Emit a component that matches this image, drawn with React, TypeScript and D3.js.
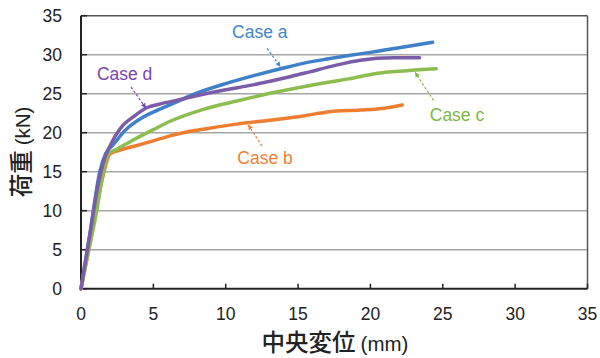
import React from "react";
import * as d3 from "d3";

const xTicks = [0, 5, 10, 15, 20, 25, 30, 35];
const yTicks = [0, 5, 10, 15, 20, 25, 30, 35];

const seriesNames = ["Case a", "Case b", "Case c", "Case d"];
const colors = ["#3f80c6", "#ee7d31", "#8cbd4f", "#7a5ca8"];
const labelColors = ["#3f86d0", "#f07f35", "#7fb64a", "#7a45ad"];

const xA = [0, 0.65, 1.3, 1.7, 2.2, 3.0, 4.3, 5.3, 6.3, 7.9, 10.0, 12.0, 14.0, 15.5, 17.0, 18.5, 20.0, 22.0, 24.3];
const yA = [0, 7.5, 15.0, 17.3, 18.4, 20.2, 22.0, 22.9, 23.7, 25.0, 26.3, 27.35, 28.3, 28.95, 29.45, 29.9, 30.3, 30.9, 31.6];

const xB = [0, 0.75, 1.5, 2.0, 2.6, 3.73, 5.0, 6.15, 7.3, 8.46, 10.77, 13.07, 15.37, 17.2, 19.3, 20.8, 22.2];
const yB = [0, 7.15, 14.3, 17.27, 17.7, 18.3, 18.95, 19.6, 20.1, 20.45, 21.1, 21.6, 22.15, 22.7, 22.9, 23.1, 23.55];

const xC = [0, 0.95, 1.9, 2.5, 3.73, 5.0, 6.2, 8.46, 10.77, 13.07, 15.37, 17.2, 18.5, 20.4, 22.5, 24.55];
const yC = [0, 8.65, 17.3, 17.9, 19.2, 20.4, 21.5, 23.0, 24.07, 25.05, 25.9, 26.5, 26.9, 27.6, 27.95, 28.2];

const xD = [0, 0.6, 1.2, 1.38, 1.65, 2.0, 2.7, 3.73, 4.54, 5.5, 6.5, 7.9, 10.0, 11.5, 13.07, 14.5, 15.8, 17.5, 19.3, 21.6, 23.4];
const yD = [0, 6.75, 13.5, 15.0, 16.8, 18.3, 20.5, 22.2, 23.2, 23.7, 24.1, 24.7, 25.5, 26.0, 26.6, 27.2, 27.8, 28.6, 29.3, 29.6, 29.6];

const labelX = [10.44, 10.8, 24.1, 1.1];
const labelY = [32.2, 16.0, 21.5, 26.75];
const arrowFromX = [12.86, 12.5, 24.36, 3.46];
const arrowFromY = [30.8, 18.3, 24.15, 25.85];
const arrowToX = [13.76, 11.57, 23.1, 4.47];
const arrowToY = [28.5, 20.97, 27.7, 23.2];

const W = 600;
const H = 358;
const left = 81;
const right = 587.5;
const top = 15.7;
const bottom = 288.7;

export default function App() {
  const x = d3.scaleLinear().domain([0, 35]).range([left, right]);
  const y = d3.scaleLinear().domain([0, 35]).range([bottom, top]);
  const xs = [xA, xB, xC, xD];
  const ys = [yA, yB, yC, yD];
  const line = d3
    .line<[number, number]>()
    .x((d) => x(d[0]))
    .y((d) => y(d[1]))
    .curve(d3.curveMonotoneX);

  const latin = "'Liberation Sans', Arial, sans-serif";
  const cjk = "'Noto Sans CJK JP', sans-serif";

  return (
    <svg
      width={W}
      height={H}
      style={{ position: "absolute", left: 0, top: 0, background: "#fff" }}
    >
      <defs>
        {colors.map((c, i) => (
          <marker
            key={i}
            id={`ah${i}`}
            viewBox="0 0 10 10"
            refX="9"
            refY="5"
            markerWidth="5"
            markerHeight="5"
            markerUnits="userSpaceOnUse"
            orient="auto"
          >
            <path d="M0,0 L10,5 L0,10 Z" fill={labelColors[i]} />
          </marker>
        ))}
      </defs>
      {yTicks.filter((t) => t > 0).map((t) => (
        <line
          key={t}
          x1={left}
          x2={right}
          y1={y(t)}
          y2={y(t)}
          stroke={t === 35 ? "#555" : "#a6a6a6"}
          strokeWidth={1.5}
        />
      ))}
      <line x1={right} x2={right} y1={top} y2={bottom} stroke="#555" strokeWidth={1.5} />
      {yTicks.map((t) => (
        <line key={t} x1={left} x2={left + 6} y1={y(t)} y2={y(t)} stroke="#222" strokeWidth={1.5} />
      ))}
      {xTicks.map((t) => (
        <line key={t} x1={x(t)} x2={x(t)} y1={bottom} y2={bottom - 5} stroke="#222" strokeWidth={1.5} />
      ))}
      <line x1={left} x2={left} y1={top} y2={bottom} stroke="#222" strokeWidth={2} />
      <line x1={left} x2={right} y1={bottom} y2={bottom} stroke="#222" strokeWidth={2} />

      {xs.map((xv, i) => (
        <path
          key={seriesNames[i]}
          d={line(xv.map((v, j) => [v, ys[i][j]] as [number, number])) || ""}
          fill="none"
          stroke={colors[i]}
          strokeWidth={3.5}
          strokeLinecap="round"
          strokeLinejoin="round"
        />
      ))}

      {seriesNames.map((n, i) => (
        <g key={n}>
          <line
            x1={x(arrowFromX[i])}
            y1={y(arrowFromY[i])}
            x2={x(arrowToX[i])}
            y2={y(arrowToY[i])}
            stroke={labelColors[i]}
            strokeWidth={1.2}
            strokeDasharray="2.5,2"
            markerEnd={`url(#ah${i})`}
          />
          <text
            x={x(labelX[i])}
            y={y(labelY[i])}
            fill={labelColors[i]}
            fontFamily={latin}
            fontSize={17.5}
          >
            {n}
          </text>
        </g>
      ))}

      {yTicks.map((t) => (
        <text
          key={t}
          x={62}
          y={y(t) + 6}
          textAnchor="end"
          fontFamily={latin}
          fontSize={17.5}
          fill="#222"
        >
          {t}
        </text>
      ))}
      {xTicks.map((t) => (
        <text
          key={t}
          x={x(t)}
          y={320}
          textAnchor="middle"
          fontFamily={latin}
          fontSize={17.5}
          fill="#222"
        >
          {t}
        </text>
      ))}

      <text x={335} y={351} textAnchor="middle" fill="#222">
        <tspan fontFamily={cjk} fontSize={23.5} fontWeight={500}>中央変位</tspan>
        <tspan fontFamily={latin} fontSize={20.5} dx={5}>(mm)</tspan>
      </text>
      <text
        transform="translate(30,152) rotate(-90)"
        textAnchor="middle"
        fill="#222"
      >
        <tspan fontFamily={cjk} fontSize={23.5} fontWeight={500}>荷重</tspan>
        <tspan fontFamily={latin} fontSize={20.5} dx={5}>(kN)</tspan>
      </text>
    </svg>
  );
}
